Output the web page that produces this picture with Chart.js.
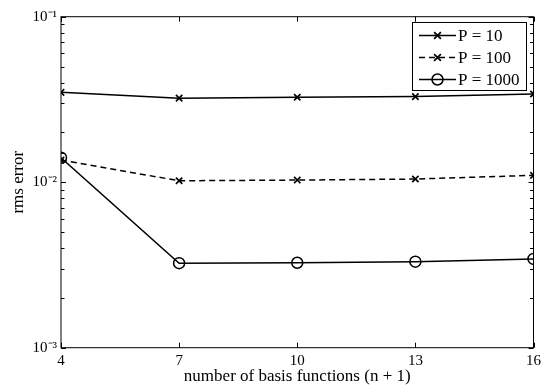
<!DOCTYPE html>
<html>
<head>
<meta charset="utf-8">
<script src="https://cdn.jsdelivr.net/npm/chart.js@4/dist/chart.umd.min.js"></script>
<style>
html,body{margin:0;padding:0;background:#fff;}
#wrap{width:545px;height:388px;position:relative;}
</style>
</head>
<body>
<div id="wrap"><canvas id="c" width="545" height="388"></canvas></div>
<script>
const basisCounts = [4, 7, 10, 13, 16];
const errP10   = [0.0349, 0.0322, 0.0326, 0.0329, 0.0341];
const errP100  = [0.0136, 0.0102, 0.0103, 0.01045, 0.0110];
const errP1000 = [0.01406, 0.00324, 0.00326, 0.00331, 0.00344];
const seriesLabels = ['P = 10', 'P = 100', 'P = 1000'];
const yTickLabels = {0.1: '10\u207B\u00B9', 0.01: '10\u207B\u00B2', 0.001: '10\u207B\u00B3'};
const xTickValues = [4, 7, 10, 13, 16];

const FONT = 'Liberation Serif, Times New Roman, serif';

function pts(vals){ return basisCounts.map((x,i)=>({x:x, y:vals[i]})); }

const framePlugin = {
  id: 'frame',
  afterDatasetsDraw(chart){
    const {ctx, chartArea:a, scales:{x, y}} = chart;
    ctx.save();
    ctx.strokeStyle = '#000';
    ctx.lineWidth = 1;
    ctx.strokeRect(a.left, a.top, a.right - a.left, a.bottom - a.top);
    ctx.beginPath();
    xTickValues.forEach(v=>{
      const px = Math.round(x.getPixelForValue(v)) + 0.5;
      ctx.moveTo(px, a.bottom); ctx.lineTo(px, a.bottom - 5);
      ctx.moveTo(px, a.top); ctx.lineTo(px, a.top + 5);
    });
    y.ticks.forEach(t=>{
      const v = t.value;
      if (v < y.min*0.999 || v > y.max*1.001) return;
      const py = Math.round(y.getPixelForValue(v)) + 0.5;
      const major = yTickLabels[+v.toPrecision(3)] !== undefined;
      const len = major ? 5 : 3.5;
      ctx.moveTo(a.left, py); ctx.lineTo(a.left + len, py);
      ctx.moveTo(a.right, py); ctx.lineTo(a.right - len, py);
    });
    ctx.stroke();

    // legend
    const bx = 412.5, by = 22.5, bw = 114, bh = 68;
    ctx.fillStyle = '#fff';
    ctx.fillRect(bx, by, bw, bh);
    ctx.strokeRect(bx, by, bw, bh);
    const rows = [35, 57, 79];
    chart.data.datasets.forEach((ds, i)=>{
      const yy = rows[i] + 0.5;
      ctx.save();
      ctx.strokeStyle = '#000';
      ctx.lineWidth = ds.borderWidth;
      ctx.setLineDash(ds.borderDash || []);
      ctx.beginPath();
      ctx.moveTo(419, yy); ctx.lineTo(456, yy);
      ctx.stroke();
      ctx.restore();
      ctx.save();
      ctx.lineWidth = ds.pointBorderWidth;
      ctx.strokeStyle = '#000';
      const cx = 437.5;
      ctx.beginPath();
      if (ds.pointStyle === 'circle') {
        ctx.arc(cx, yy, ds.pointRadius, 0, Math.PI*2);
        ctx.stroke();
      } else {
        const r = ds.pointRadius*0.75;
        ctx.moveTo(cx-r, yy-r); ctx.lineTo(cx+r, yy+r);
        ctx.moveTo(cx-r, yy+r); ctx.lineTo(cx+r, yy-r);
        ctx.stroke();
      }
      ctx.restore();
      ctx.fillStyle = '#000';
      ctx.font = '17px ' + FONT;
      ctx.textBaseline = 'middle';
      ctx.textAlign = 'left';
      ctx.fillText(ds.label, 458, yy + 1);
    });
    ctx.restore();
  }
};

new Chart(document.getElementById('c'), {
  type: 'line',
  data: {
    datasets: [
      {label: seriesLabels[0], data: pts(errP10), borderColor:'#000', backgroundColor:'#000',
       borderWidth:1.5, pointStyle:'crossRot', pointRadius:4.5, pointBorderWidth:1.7, pointBorderColor:'#000', fill:false, tension:0},
      {label: seriesLabels[1], data: pts(errP100), borderColor:'#000', backgroundColor:'#000',
       borderWidth:1.5, borderDash:[6,4], pointStyle:'crossRot', pointRadius:4.5, pointBorderWidth:1.7, pointBorderColor:'#000', fill:false, tension:0},
      {label: seriesLabels[2], data: pts(errP1000), borderColor:'#000', backgroundColor:'rgba(0,0,0,0)',
       borderWidth:1.5, pointStyle:'circle', pointRadius:5.5, pointBorderWidth:1.5, pointBorderColor:'#000', fill:false, tension:0}
    ]
  },
  options: {
    responsive:false, animation:false, devicePixelRatio:1,
    layout:{padding:{top:16.7, right:7.5, left:0, bottom:0}},
    plugins:{legend:{display:false}, tooltip:{enabled:false}},
    scales:{
      x:{
        type:'linear', min:4, max:16,
        afterBuildTicks(s){ s.ticks = xTickValues.map(v=>({value:v})); },
        afterFit(s){ s.height = 40.3; },
        grid:{display:false, drawTicks:false},
        border:{display:false},
        ticks:{color:'#000', font:{family:FONT, size:15}, padding:4, maxRotation:0, autoSkip:false},
        title:{display:true, text:'number of basis functions (n + 1)', color:'#000', font:{family:FONT, size:17}, padding:{top:0,bottom:1}}
      },
      y:{
        type:'logarithmic', min:0.001, max:0.1,
        afterFit(s){ s.width = 61; },
        grid:{display:false, drawTicks:false},
        border:{display:false},
        ticks:{color:'#000', font:{family:FONT, size:15}, padding:4, autoSkip:false,
          callback(v){ const k = +(+v).toPrecision(3); return yTickLabels[k] !== undefined ? yTickLabels[k] : ''; }},
        title:{display:true, text:'rms error', color:'#000', font:{family:FONT, size:17}, padding:{top:8,bottom:0}}
      }
    }
  },
  plugins:[framePlugin]
});
</script>
</body>
</html>
